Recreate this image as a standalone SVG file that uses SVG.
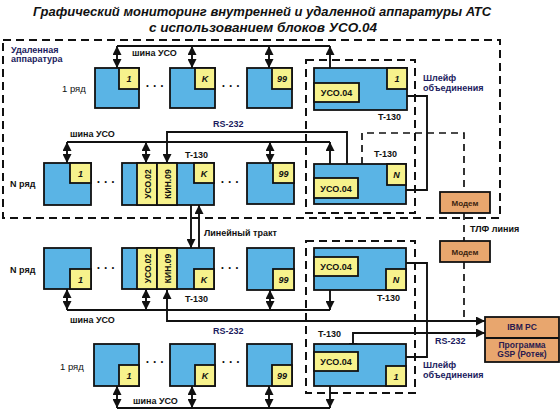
<svg xmlns="http://www.w3.org/2000/svg" width="560" height="410" viewBox="0 0 560 410">
<style>
.bg{fill:#ffffff}
.blue{fill:#5AB4E5;stroke:#111;stroke-width:1.8}
.yel{fill:#F7F28C;stroke:#111;stroke-width:1.8}
.org{fill:#E8A66E;stroke:#111;stroke-width:1.8}
.dash{fill:none;stroke:#111;stroke-width:2;stroke-dasharray:8 5}
.dl{fill:none;stroke:#111;stroke-width:1.7;stroke-dasharray:7 5}
.ln{fill:none;stroke:#111;stroke-width:1.9}
.ar{fill:none;stroke:#111;stroke-width:1.9;marker-end:url(#ah)}
.dar{fill:none;stroke:#111;stroke-width:1.9;marker-start:url(#ah);marker-end:url(#ah)}
text{font-family:"Liberation Sans",Arial,sans-serif;fill:#111}
.t{font-weight:bold;font-style:italic;text-anchor:middle}
.lb{font-size:9px;font-weight:bold}
.nv{font-size:9px;font-weight:bold;fill:#1b1b5e}
.rg{font-size:9.5px}
.num{font-size:9px;font-weight:bold;font-style:italic;text-anchor:middle}
.uso{font-size:9px;font-weight:bold;text-anchor:middle}
.vt{font-size:8.5px;font-weight:bold;text-anchor:middle}
.md{font-size:8px;font-weight:bold;text-anchor:middle;fill:#3a2410}
.pc{font-size:8.5px;font-weight:bold;text-anchor:middle;fill:#2a1a4e}
.dots{font-size:12px;font-weight:bold;text-anchor:middle}
</style>
<defs>
<marker id="ah" viewBox="0 0 10 10" refX="10" refY="5" markerUnits="userSpaceOnUse" markerWidth="9" markerHeight="9" orient="auto-start-reverse">
<path d="M0,0 L10,5 L0,10 z" fill="#111"/>
</marker>
</defs>
<rect class="bg" x="0" y="0" width="560" height="410"/>

<g id="title">
<text class="t" x="262" y="16" font-size="13px">Графический мониторинг внутренней и удаленной аппаратуры АТС</text>
<text class="t" x="263" y="32" font-size="13.5px">с использованием блоков УСО.04</text>
</g>

<g id="remote-frame">
<rect class="dash" x="3" y="40" width="497" height="178"/>
<text class="nv" x="11" y="53">Удаленная</text>
<text class="nv" x="11" y="62">аппаратура</text>
</g>

<g id="loop-upper-frame"><rect class="dash" x="306" y="60" width="109" height="153"/></g>
<g id="loop-lower-frame"><rect class="dash" x="306" y="241" width="109" height="152"/></g>

<g id="connectors">
<path class="ln" d="M117,46 H330"/>
<path class="dar" d="M117,46 V68"/>
<path class="dar" d="M192,46 V68"/>
<path class="dar" d="M269,46 V68"/>
<path class="dar" d="M330,46 V83"/>
<path class="dar" d="M167,163 V132 H347 V178"/>
<path class="ln" d="M67,142 H330"/>
<path class="dar" d="M67,142 V163"/>
<path class="dar" d="M146,142 V163"/>
<path class="dar" d="M270,142 V163"/>
<path class="dar" d="M330,142 V178"/>
<path class="ln" d="M359,96 H427 V190 H358"/>
<path class="dl" d="M362,164 V133 H464 V192"/>
<path class="dl" d="M464,213 V241"/>
<path class="dl" d="M464,262 V321"/>
<path class="ar" d="M191,205 V248"/>
<path class="ar" d="M199,248 V205"/>
<path class="ln" d="M67,310 H330"/>
<path class="dar" d="M67,289 V310"/>
<path class="dar" d="M146,289 V310"/>
<path class="dar" d="M270,290 V310"/>
<path class="dar" d="M330,276 V310"/>
<path class="dar" d="M167,290 V321 H485"/>
<path class="dar" d="M353,352 V333 H485"/>
<path class="ln" d="M358,263 H427 V357 H359"/>
<path class="ln" d="M117,408 H330"/>
<path class="dar" d="M117,408 V386"/>
<path class="dar" d="M192,408 V386"/>
<path class="dar" d="M269,408 V386"/>
<path class="dar" d="M330,408 V371"/>
</g>

<g id="r1u-1"><rect class="blue" x="95" y="68" width="44" height="40"/><rect class="yel" x="119" y="68" width="20" height="21"/><text class="num" x="129" y="82">1</text></g>
<g id="r1u-k"><rect class="blue" x="170" y="68" width="45" height="40"/><rect class="yel" x="195" y="68" width="20" height="21"/><text class="num" x="205" y="82">K</text></g>
<g id="r1u-99"><rect class="blue" x="247" y="68" width="45" height="40"/><rect class="yel" x="272" y="68" width="20" height="21"/><text class="num" x="282" y="82">99</text></g>
<g id="t130-u1"><rect class="blue" x="314" y="68" width="93" height="42"/><rect class="yel" x="387" y="68" width="20" height="21"/><text class="num" x="397" y="82">1</text><rect class="yel" x="314" y="83" width="45" height="19"/><text class="uso" x="336.5" y="96">УСО.04</text></g>

<g id="rNu-1"><rect class="blue" x="44" y="163" width="47" height="42"/><rect class="yel" x="70" y="163" width="21" height="20"/><text class="num" x="80.5" y="176.5">1</text></g>
<g id="rNu-k"><rect class="blue" x="122" y="163" width="92" height="42"/><rect class="yel" x="137" y="163" width="20" height="42"/><rect class="yel" x="157" y="163" width="20" height="42"/><text class="vt" transform="translate(150.5,184) rotate(-90)">УСО.02</text><text class="vt" transform="translate(170.5,184) rotate(-90)">КИН.09</text><rect class="yel" x="194" y="163" width="20" height="20"/><text class="num" x="204" y="176.5">K</text></g>
<g id="rNu-99"><rect class="blue" x="247" y="163" width="47" height="41"/><rect class="yel" x="273" y="163" width="21" height="20"/><text class="num" x="283.5" y="176.5">99</text></g>
<g id="t130-uN"><rect class="blue" x="314" y="164" width="92" height="40"/><rect class="yel" x="387" y="164" width="19" height="21"/><text class="num" x="396.5" y="178">N</text><rect class="yel" x="314" y="178" width="44" height="20"/><text class="uso" x="336" y="191.5">УСО.04</text></g>

<g id="modem1"><rect class="org" x="440" y="192" width="50" height="21"/><text class="md" x="465" y="205.5">Модем</text></g>
<g id="modem2"><rect class="org" x="440" y="241" width="50" height="21"/><text class="md" x="465" y="254.5">Модем</text></g>
<g id="ibmpc"><rect class="org" x="485" y="317" width="74" height="45"/><line class="ln" x1="485" y1="338" x2="559" y2="338"/><text class="pc" x="522" y="330">IBM PC</text><text class="pc" x="522" y="348">Программа</text><text class="pc" x="522" y="357">GSP (Ротек)</text></g>

<g id="rNl-1"><rect class="blue" x="44" y="248" width="47" height="41"/><rect class="yel" x="70" y="269" width="21" height="20"/><text class="num" x="80.5" y="282.5">1</text></g>
<g id="rNl-k"><rect class="blue" x="122" y="248" width="92" height="41"/><rect class="yel" x="137" y="248" width="20" height="41"/><rect class="yel" x="157" y="248" width="20" height="41"/><text class="vt" transform="translate(150.5,268.5) rotate(-90)">УСО.02</text><text class="vt" transform="translate(170.5,268.5) rotate(-90)">КИН.09</text><rect class="yel" x="194" y="269" width="20" height="20"/><text class="num" x="204" y="282.5">K</text></g>
<g id="rNl-99"><rect class="blue" x="247" y="248" width="47" height="42"/><rect class="yel" x="273" y="269" width="21" height="21"/><text class="num" x="283.5" y="283">99</text></g>
<g id="t130-lN"><rect class="blue" x="314" y="248" width="92" height="42"/><rect class="yel" x="386" y="269" width="20" height="21"/><text class="num" x="396" y="283">N</text><rect class="yel" x="314" y="257" width="44" height="19"/><text class="uso" x="336" y="270">УСО.04</text></g>

<g id="r1l-1"><rect class="blue" x="94" y="344" width="45" height="42"/><rect class="yel" x="119" y="365" width="20" height="21"/><text class="num" x="129" y="379">1</text></g>
<g id="r1l-k"><rect class="blue" x="170" y="344" width="45" height="42"/><rect class="yel" x="195" y="365" width="20" height="21"/><text class="num" x="205" y="379">K</text></g>
<g id="r1l-99"><rect class="blue" x="247" y="344" width="45" height="42"/><rect class="yel" x="272" y="365" width="20" height="21"/><text class="num" x="282" y="379">99</text></g>
<g id="t130-l1"><rect class="blue" x="314" y="344" width="92" height="42"/><rect class="yel" x="386" y="366" width="20" height="20"/><text class="num" x="396" y="379.5">1</text><rect class="yel" x="314" y="352" width="44" height="19"/><text class="uso" x="336" y="365">УСО.04</text></g>

<g id="labels">
<text class="lb" x="132" y="56">шина УСО</text>
<text class="rg" x="62" y="92">1 ряд</text>
<text class="dots" x="155" y="90">· · ·</text>
<text class="dots" x="231" y="90">· · ·</text>
<text class="nv" x="213" y="127">RS-232</text>
<text class="lb" x="378" y="120">T-130</text>
<text class="nv" x="423" y="81">Шлейф</text>
<text class="nv" x="423" y="91">объединения</text>
<text class="lb" x="70" y="137">шина УСО</text>
<text class="lb" x="185" y="158">T-130</text>
<text class="lb" x="374" y="157">T-130</text>
<text class="lb" x="10" y="187">N ряд</text>
<text class="dots" x="106" y="186">· · ·</text>
<text class="dots" x="230" y="186">· · ·</text>
<text class="lb" x="470" y="232">ТЛФ линия</text>
<text class="lb" x="204" y="236">Линейный тракт</text>
<text class="lb" x="10" y="273">N ряд</text>
<text class="dots" x="106" y="272">· · ·</text>
<text class="dots" x="230" y="272">· · ·</text>
<text class="lb" x="185" y="302">T-130</text>
<text class="lb" x="377" y="301">T-130</text>
<text class="lb" x="70" y="323">шина УСО</text>
<text class="nv" x="213" y="334">RS-232</text>
<text class="lb" x="318" y="337">T-130</text>
<text class="nv" x="435" y="344">RS-232</text>
<text class="rg" x="60" y="370">1 ряд</text>
<text class="dots" x="155" y="366">· · ·</text>
<text class="dots" x="231" y="366">· · ·</text>
<text class="nv" x="423" y="368">Шлейф</text>
<text class="nv" x="423" y="378">объединения</text>
<text class="lb" x="133" y="404">шина УСО</text>
</g>
</svg>
